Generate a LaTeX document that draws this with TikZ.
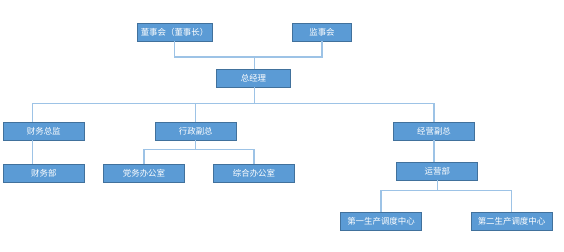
\documentclass[tikz,border=0pt]{standalone}
\usepackage{fontspec}
\newfontfamily\cjk{Noto Sans CJK SC}
\usetikzlibrary{positioning, calc}
\definecolor{cbox}{HTML}{5B9BD5}
\definecolor{cedge}{HTML}{41719C}
\definecolor{cline}{HTML}{9DC3E6}
\tikzset{
  every picture/.style={x=0.03cm, y=-0.03cm, font=\cjk\fontsize{7.2}{8}\selectfont},
  unit/.style={draw=cedge, fill=cbox, text=white, line width=0.6pt, minimum width=#1, minimum height=0.54cm, inner sep=1pt},
  unit/.default=2.43cm,
  link/.style={draw=cline, line width=0.9pt},
}
\begin{document}
\begin{tikzpicture}
  \useasboundingbox (0,0) rectangle (564,251);
  % boxes, placed on the pixel grid of the chart
  \node[unit=2.25cm] (board) at (174.5,32) {董事会（董事长）};
  \node[unit=1.78cm] (supv) at (322,32) {监事会};
  \node[unit=2.21cm] (gm) at (253.5,78) {总经理};
  \node[unit] (cfo) at (43.8,131) {财务总监};
  \node[unit] (admin) at (195.8,131) {行政副总};
  \node[unit] (bizvp) at (434,131) {经营副总};
  \node[unit] (fin) at (43.8,173) {财务部};
  \node[unit] (party) at (144,173) {党务办公室};
  \node[unit] (office) at (254,173.3) {综合办公室};
  \node[unit] (ops) at (437.3,171) {运营部};
  \node[unit] (ctr1) at (381,221.7) {第一生产调度中心};
  \node[unit] (ctr2) at (511.5,221.7) {第二生产调度中心};
  % board level
  \coordinate (top) at (254.7,57);
  \draw[link] (board.south) |- (top) -| (supv.south);
  \draw[link] (top) -- (top |- gm.north);
  % vice level
  \coordinate (mid) at (254.7,103.5);
  \coordinate (finx) at (32.3,103.5);
  \draw[link] (mid |- gm.south) -- (mid);
  \draw[link] (finx) -| (bizvp.north);
  \draw[link] (finx) -- (cfo.north -| finx);
  \draw[link] (admin.north) -- (admin.north |- mid);
  \draw[link] (cfo.south -| finx) -- (fin.north -| finx);
  % offices
  \draw[link] (admin.south) -- ++(0,9.6) coordinate (adm);
  \draw[link] (party.north) |- (adm) -| (office.north);
  % operations
  \draw[link] (bizvp.south) -- (bizvp.south |- ops.north);
  \draw[link] (ops.south) -- ++(0,10) coordinate (opj);
  \draw[link] (ctr1.north) |- (opj) -| (ctr2.north);
\end{tikzpicture}
\end{document}
